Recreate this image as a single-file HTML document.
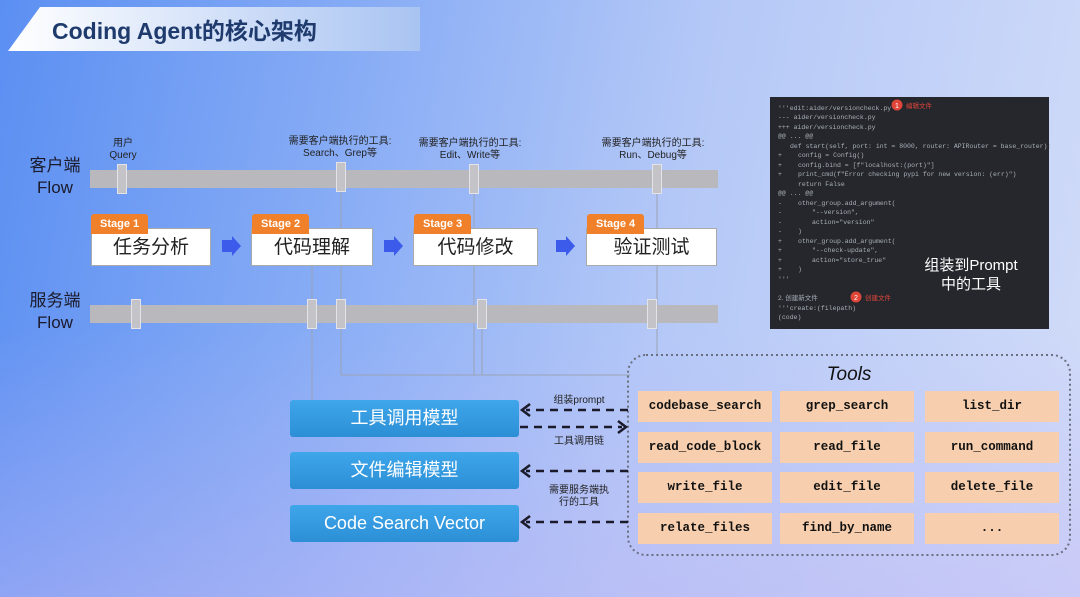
<!DOCTYPE html>
<html><head><meta charset="utf-8"><style>
*{margin:0;padding:0;box-sizing:border-box}
body{width:1080px;height:597px;overflow:hidden;position:relative;font-family:"Liberation Sans","Noto Sans CJK SC",sans-serif;
background:linear-gradient(100deg,#5b8ff2 0%,#86abf5 30%,#b4c8f7 60%,#d2dcf8 100%);}
.bg2{position:absolute;left:0;top:0;width:1080px;height:597px;background:linear-gradient(180deg,rgba(255,255,255,0) 55%,rgba(190,180,245,.45) 100%)}
.abs{position:absolute}
.bar{position:absolute;left:90px;width:628px;height:18px;background:#b9b9bd}
.tick{position:absolute;width:10px;height:30px;background:#c4c4c8;border:1px solid #e4e4e8}
.stage{position:absolute;top:228px;height:38px;background:#fff;border:1px solid #aaa;font-size:19px;color:#222;text-align:center;line-height:38px}
.tag{position:absolute;height:20px;background:#f0802a;color:#fff;font-size:11px;font-weight:bold;line-height:20px;padding:0 9px;border-radius:3px 3px 0 0}
.small{position:absolute;font-size:10px;color:#222;text-align:center;line-height:12px}
.blue{position:absolute;left:290px;width:229px;height:37px;background:linear-gradient(180deg,#3fa6ea,#2c8fd6);border-radius:3px;color:#fff;font-size:18px;text-align:center;line-height:37px}
.cell{position:absolute;width:134px;height:31px;background:#f7cfae;font-family:"Liberation Mono",monospace;font-weight:bold;font-size:12.5px;color:#111;text-align:center;line-height:31px}
</style></head><body>
<div class="bg2"></div>
<svg class="abs" style="left:0;top:0" width="1080" height="597">
<defs><linearGradient id="tb" x1="0" x2="1"><stop offset="0" stop-color="#ffffff"/><stop offset="1" stop-color="#a9c4f2"/></linearGradient></defs>
<polygon points="40,7 420,7 420,51 8,51" fill="url(#tb)"/>
<text x="52" y="39" font-size="23" font-weight="bold" fill="#1f3b6e" font-family="Liberation Sans,Noto Sans CJK SC,sans-serif">Coding Agent的核心架构</text>
<line x1="341" y1="190" x2="341" y2="375" stroke="#9aa3b5"/>
<line x1="341" y1="375" x2="630" y2="375" stroke="#9aa3b5"/>
<line x1="474" y1="190" x2="474" y2="375" stroke="#9aa3b5"/>
<line x1="312" y1="265" x2="312" y2="400" stroke="#9aa3b5"/>
<line x1="482" y1="325" x2="482" y2="375" stroke="#9aa3b5"/>
<line x1="657" y1="190" x2="657" y2="355" stroke="#9aa3b5"/>
<rect x="628" y="355" width="442" height="200" rx="18" fill="none" stroke="#6a6f80" stroke-width="2" stroke-dasharray="2,3"/>
<g stroke="#1a1a2a" stroke-width="2.5" fill="none" stroke-dasharray="8,6">
<line x1="628" y1="410" x2="526" y2="410"/>
<line x1="520" y1="427" x2="622" y2="427"/>
<line x1="628" y1="471" x2="526" y2="471"/>
<line x1="628" y1="522" x2="526" y2="522"/>
</g>
<g stroke="#1a1a2a" stroke-width="2.5" fill="none">
<polyline points="530,404 522,410 530,416"/>
<polyline points="618,421 626,427 618,433"/>
<polyline points="530,465 522,471 530,477"/>
<polyline points="530,516 522,522 530,528"/>
</g>
<g fill="#3c5bea">
<polygon points="222,240 232,240 232,236 241,246 232,256 232,252 222,252"/>
<polygon points="384,240 394,240 394,236 403,246 394,256 394,252 384,252"/>
<polygon points="556,240 566,240 566,236 575,246 566,256 566,252 556,252"/>
</g>
<rect x="770" y="97" width="279" height="232" fill="#25272c"/>
<g font-family="Liberation Mono,monospace" font-size="6.5" fill="#a8b0b8">
<text x="778" y="110">'''edit:aider/versioncheck.py</text>
<text x="778" y="119">--- aider/versioncheck.py</text>
<text x="778" y="129">+++ aider/versioncheck.py</text>
<text x="778" y="138">@@ ... @@</text>
<text x="790" y="148">def start(self, port: int = 8000, router: APIRouter = base_router):</text>
<text x="778" y="157">+</text><text x="798" y="157">config = Config()</text>
<text x="778" y="167">+</text><text x="798" y="167">config.bind = [f"localhost:(port)"]</text>
<text x="778" y="176">+</text><text x="798" y="176">print_cmd(f"Error checking pypi for new version: (err)")</text>
<text x="798" y="186">return False</text>
<text x="778" y="195">@@ ... @@</text>
<text x="778" y="205">-</text><text x="798" y="205">other_group.add_argument(</text>
<text x="778" y="214">-</text><text x="812" y="214">"--version",</text>
<text x="778" y="224">-</text><text x="812" y="224">action="version"</text>
<text x="778" y="233">-</text><text x="798" y="233">)</text>
<text x="778" y="243">+</text><text x="798" y="243">other_group.add_argument(</text>
<text x="778" y="252">+</text><text x="812" y="252">"--check-update",</text>
<text x="778" y="262">+</text><text x="812" y="262">action="store_true"</text>
<text x="778" y="271">+</text><text x="798" y="271">)</text>
<text x="778" y="281">'''</text>
<text x="778" y="300" font-family="Liberation Sans,Noto Sans CJK SC,sans-serif">2. 创建新文件</text>
<text x="778" y="310">'''create:(filepath)</text>
<text x="778" y="319">(code)</text>
</g>
<circle cx="897" cy="105" r="5.5" fill="#e0453a"/>
<text x="897" y="108" font-size="7" fill="#fff" text-anchor="middle" font-family="Liberation Sans,sans-serif">1</text>
<text x="906" y="108" font-size="6.5" fill="#e0453a" font-family="Liberation Sans,Noto Sans CJK SC,sans-serif">编辑文件</text>
<circle cx="856" cy="297" r="5.5" fill="#e0453a"/>
<text x="856" y="300" font-size="7" fill="#fff" text-anchor="middle" font-family="Liberation Sans,sans-serif">2</text>
<text x="865" y="300" font-size="6.5" fill="#e0453a" font-family="Liberation Sans,Noto Sans CJK SC,sans-serif">创建文件</text>
<g font-size="15" fill="#ffffff" text-anchor="middle" font-family="Liberation Sans,Noto Sans CJK SC,sans-serif">
<text x="971" y="270">组装到Prompt</text>
<text x="971" y="289">中的工具</text>
</g>
</svg>
<div class="abs" style="left:27px;top:155px;font-size:17px;color:#1a1a2a;line-height:22px;text-align:center;width:56px">客户端<br>Flow</div>
<div class="abs" style="left:27px;top:290px;font-size:17px;color:#1a1a2a;line-height:22px;text-align:center;width:56px">服务端<br>Flow</div>
<div class="bar" style="top:170px"></div>
<div class="bar" style="top:305px"></div>
<div class="tick" style="left:117px;top:164px"></div>
<div class="tick" style="left:336px;top:162px"></div>
<div class="tick" style="left:469px;top:164px"></div>
<div class="tick" style="left:652px;top:164px"></div>
<div class="tick" style="left:131px;top:299px"></div>
<div class="tick" style="left:307px;top:299px"></div>
<div class="tick" style="left:336px;top:299px"></div>
<div class="tick" style="left:477px;top:299px"></div>
<div class="tick" style="left:647px;top:299px"></div>
<div class="small" style="left:100px;top:138px;width:46px">用户<br>Query</div>
<div class="small" style="left:280px;top:136px;width:120px">需要客户端执行的工具:<br>Search、Grep等</div>
<div class="small" style="left:410px;top:138px;width:120px">需要客户端执行的工具:<br>Edit、Write等</div>
<div class="small" style="left:593px;top:138px;width:120px">需要客户端执行的工具:<br>Run、Debug等</div>
<div class="stage" style="left:91px;width:120px">任务分析</div>
<div class="stage" style="left:251px;width:122px">代码理解</div>
<div class="stage" style="left:413px;width:125px">代码修改</div>
<div class="stage" style="left:586px;width:131px">验证测试</div>
<div class="tag" style="left:91px;top:214px">Stage 1</div>
<div class="tag" style="left:252px;top:214px">Stage 2</div>
<div class="tag" style="left:414px;top:214px">Stage 3</div>
<div class="tag" style="left:587px;top:214px">Stage 4</div>
<div class="blue" style="top:400px">工具调用模型</div>
<div class="blue" style="top:452px">文件编辑模型</div>
<div class="blue" style="top:505px">Code Search Vector</div>
<div class="small" style="left:540px;top:395px;width:78px">组装prompt</div>
<div class="small" style="left:540px;top:436px;width:78px">工具调用链</div>
<div class="small" style="left:540px;top:485px;width:78px">需要服务端执<br>行的工具</div>
<div class="abs" style="left:628px;top:364px;width:442px;text-align:center;font-style:italic;font-size:19px;color:#111">Tools</div>
<div class="cell" style="left:638px;top:391px">codebase_search</div>
<div class="cell" style="left:780px;top:391px">grep_search</div>
<div class="cell" style="left:925px;top:391px">list_dir</div>
<div class="cell" style="left:638px;top:432px">read_code_block</div>
<div class="cell" style="left:780px;top:432px">read_file</div>
<div class="cell" style="left:925px;top:432px">run_command</div>
<div class="cell" style="left:638px;top:472px">write_file</div>
<div class="cell" style="left:780px;top:472px">edit_file</div>
<div class="cell" style="left:925px;top:472px">delete_file</div>
<div class="cell" style="left:638px;top:513px">relate_files</div>
<div class="cell" style="left:780px;top:513px">find_by_name</div>
<div class="cell" style="left:925px;top:513px">...</div>
</body></html>
